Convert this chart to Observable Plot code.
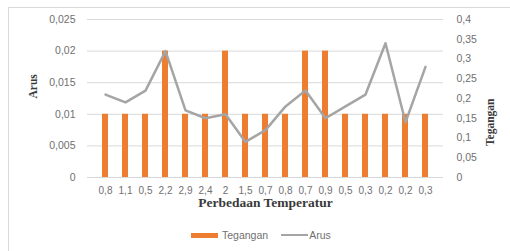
<!DOCTYPE html>
<html>
<head>
<meta charset="utf-8">
<script src="https://cdn.jsdelivr.net/npm/d3@7"></script>
<script src="https://cdn.jsdelivr.net/npm/@observablehq/plot@0.6"></script>
<style>
  html, body { margin: 0; padding: 0; background: #fff; width: 510px; height: 251px; overflow: hidden; }
  #wrap { position: relative; width: 510px; height: 251px; }
  #frame { position: absolute; left: 8px; top: 7px; width: 600px; height: 300px; border: 1px solid #d9d9d9; box-sizing: border-box; }
  #chart { position: absolute; left: 0; top: 0; }
  #legend { position: absolute; left: 191px; top: 229px; display: flex; align-items: center; font-family: "Liberation Sans", Arial, sans-serif; font-size: 10.5px; color: #707070; }
  .sw-bar { width: 27px; height: 5px; background: #ED7D31; margin-right: 4px; }
  .sw-line { width: 27px; height: 2px; background: #a5a5a5; margin-left: 13px; margin-right: 1px; }
</style>
</head>
<body>
<div id="wrap">
  <div id="frame"></div>
  <div id="chart"></div>
  <div id="legend"><span class="sw-bar"></span><span>Tegangan</span><span class="sw-line"></span><span>Arus</span></div>
</div>
<script>
const categories = ["0,8","1,1","0,5","2,2","2,9","2,4","2","1,5","0,7","0,8","0,7","0,9","0,5","0,3","0,2","0,2","0,3"];
const tegangan = [0.01,0.01,0.01,0.02,0.01,0.01,0.02,0.01,0.01,0.01,0.02,0.02,0.01,0.01,0.01,0.01,0.01];
const arus = [0.21,0.19,0.22,0.32,0.17,0.15,0.16,0.09,0.12,0.18,0.22,0.15,0.18,0.21,0.34,0.14,0.28];
const leftTicks = [0,0.005,0.01,0.015,0.02,0.025];
const rightTicks = [0,0.05,0.1,0.15,0.2,0.25,0.3,0.35,0.4];

const leftMax = 0.025, rightMax = 0.4;
const k = leftMax / rightMax;
const fmt = v => String(+(+v).toFixed(4)).replace(".", ",");

const data = categories.map((c, i) => ({i, teg: tegangan[i], arus: arus[i]}));
const sans = "Liberation Sans, Arial, sans-serif";
const serif = "Liberation Serif, Times New Roman, serif";

const chart = Plot.plot({
  width: 510,
  height: 222,
  marginTop: 19,
  marginBottom: 45,
  marginLeft: 87,
  marginRight: 67,
  style: {fontFamily: sans, background: "transparent", overflow: "visible"},
  x: {type: "band", domain: d3.range(categories.length), padding: 0.7, axis: null, label: null},
  y: {domain: [0, leftMax], axis: null, label: null},
  marks: [
    Plot.gridY(leftTicks, {stroke: "#d9d9d9", strokeOpacity: 1}),
    Plot.barY(data, {x: "i", y: "teg", fill: "#ED7D31"}),
    Plot.lineY(data, {x: "i", y: d => d.arus * k, stroke: "#a5a5a5", strokeWidth: 2.5}),
    Plot.axisY(leftTicks, {anchor: "left", tickSize: 0, tickPadding: 12, tickFormat: fmt, fontSize: 10.5, fill: "#707070", label: null}),
    Plot.axisY(rightTicks.map(v => v * k), {anchor: "right", tickSize: 0, tickPadding: 13, tickFormat: d => fmt(Math.round(d / k * 1000) / 1000), fontSize: 10.5, fill: "#707070", label: null}),
    Plot.axisX(d3.range(categories.length), {anchor: "bottom", tickSize: 0, tickPadding: 9, tickFormat: i => categories[i], fontSize: 10, fill: "#707070", label: null}),
    Plot.text(["Perbedaan Temperatur"], {frameAnchor: "bottom", dy: 29, fontFamily: serif, fontWeight: "bold", fontSize: 13.5, fill: "#3a3a3a"}),
    Plot.text(["Arus"], {frameAnchor: "left", dx: -54, rotate: -90, fontFamily: serif, fontWeight: "bold", fontSize: 11.5, fill: "#3a3a3a"}),
    Plot.text(["Tegangan"], {frameAnchor: "right", dx: 47, rotate: -90, fontFamily: serif, fontWeight: "bold", fontSize: 11.5, fill: "#3a3a3a"})
  ]
});
document.getElementById("chart").appendChild(chart);
</script>
</body>
</html>
